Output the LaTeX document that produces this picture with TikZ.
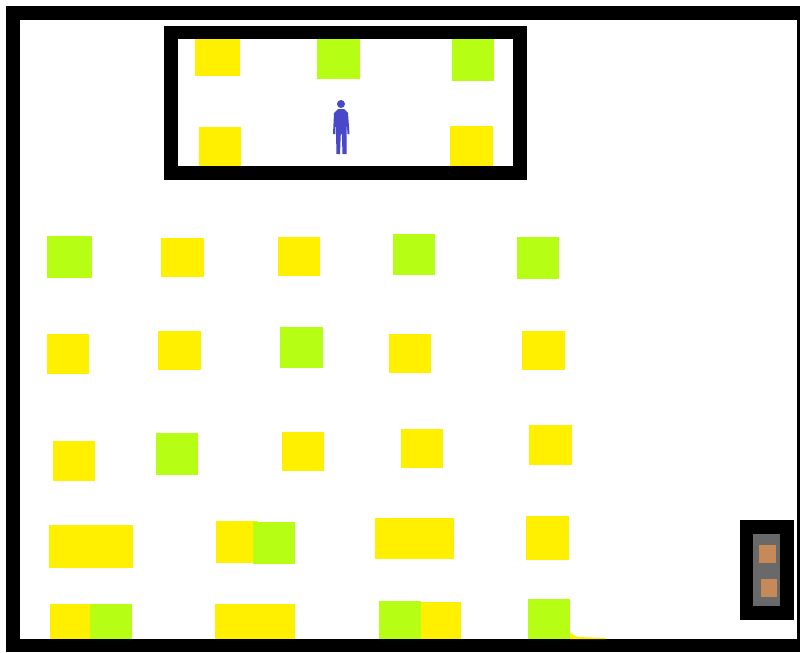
\documentclass[tikz,border=0pt]{standalone}
\usepackage{tikz}

\definecolor{seatyellow}{RGB}{255,240,0}
\definecolor{seatgreen}{RGB}{182,255,20}
\definecolor{personblue}{RGB}{72,72,200}
\definecolor{doorgray}{RGB}{105,105,105}
\definecolor{doorbrown}{RGB}{198,138,88}

\tikzset{
  wall/.style={fill=black},
  seaty/.style={fill=seatyellow},
  seatg/.style={fill=seatgreen},
}

\begin{document}
\begin{tikzpicture}[x=0.025cm,y=-0.025cm]

\useasboundingbox (0,0) rectangle (800,652);

% ===== Outer walls =====
\fill[wall] (6,6) rectangle (800,20);
\fill[wall] (6,6) rectangle (20,652);
\fill[wall] (797,6) rectangle (800,652);
\fill[wall] (6,639) rectangle (800,652);

% ===== Top room =====
\fill[wall] (164,26) rectangle (527,39);
\fill[wall] (164,166) rectangle (527,180);
\fill[wall] (164,26) rectangle (178,180);
\fill[wall] (513,26) rectangle (527,180);

\foreach \xa/\ya/\xb/\yb in {195/39/240/76, 199/127/241/166, 450/126/493/166}
  \fill[seaty] (\xa,\ya) rectangle (\xb,\yb);
\foreach \xa/\ya/\xb/\yb in {317/39/360/79, 452/39/494/81}
  \fill[seatg] (\xa,\ya) rectangle (\xb,\yb);

% Person
\fill[personblue] (341,104) circle (4);
\fill[personblue] (338,109) -- (344,109) -- (348,113) -- (349.5,134) -- (347.5,134)
  -- (346.5,120) -- (346.5,134) -- (346.5,154) -- (342.5,154) -- (341.8,134) -- (340.8,134)
  -- (340,154) -- (336.5,154) -- (336,134) -- (335.5,120) -- (335,134) -- (333,134)
  -- (334,113) -- cycle;

% ===== Yellow squares, main floor =====
\foreach \xa/\ya/\xb/\yb in {
  161/238/204/277, 278/237/320/276,
  47/334/89/374, 158/331/201/370, 389/334/431/373, 522/331/565/370,
  53/441/95/481, 282/432/324/471, 401/429/443/468, 529/425/572/465,
  49/525/133/568, 216/521/258/563, 375/518/454/559, 526/516/569/560,
  50/604/92/639, 215/604/295/639, 420/602/461/639}
  \fill[seaty] (\xa,\ya) rectangle (\xb,\yb);

% ===== Green squares, main floor =====
\foreach \xa/\ya/\xb/\yb in {
  47/236/92/278, 393/234/435/275, 517/237/559/279,
  280/327/323/368,
  156/433/198/475,
  253/522/295/564,
  90/604/132/639, 379/601/421/639, 528/599/570/639}
  \fill[seatg] (\xa,\ya) rectangle (\xb,\yb);

% Sliver beside the last square
\fill[seaty] (570,633) -- (578,637) -- (606,638) -- (606,639) -- (570,639) -- cycle;

% ===== Door box, bottom right =====
\fill[wall] (740,520) rectangle (794,620);
\fill[doorgray] (753,534) rectangle (780,606);
\fill[doorbrown] (759,545) rectangle (776,563);
\fill[doorbrown] (761,579) rectangle (777,597);

\end{tikzpicture}
\end{document}
